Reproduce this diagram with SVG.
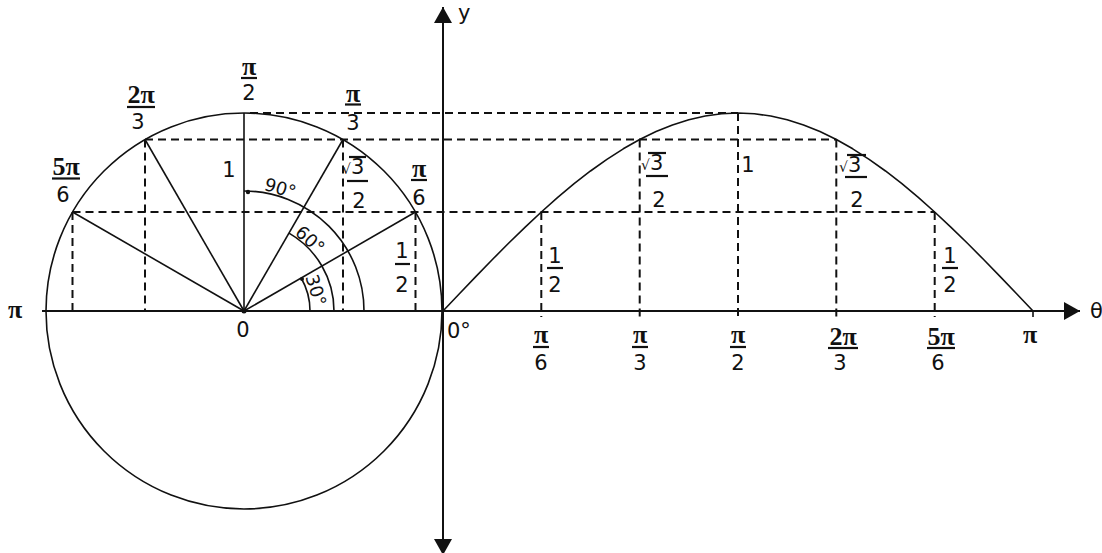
<svg xmlns="http://www.w3.org/2000/svg" width="1102" height="553" viewBox="0 0 1102 553">
<defs>
<style>
.ln{stroke:#111;stroke-width:1.6;fill:none}
.ax{stroke:#111;stroke-width:2;fill:none}
.ds{stroke:#111;stroke-width:2;fill:none;stroke-dasharray:8 5}
.bar{stroke:#111;stroke-width:2.2}
text{font-family:"DejaVu Sans","Liberation Sans",sans-serif;font-size:21px;fill:#111}
.pi{font-family:"Liberation Serif","DejaVu Serif",serif;font-weight:bold;font-size:26px}
.sq{font-size:14px}
.deg{font-size:18px}
</style>
<marker id="arr" markerUnits="userSpaceOnUse" viewBox="0 0 16 18" markerWidth="16" markerHeight="18" refX="16" refY="9" orient="auto-start-reverse">
<path d="M0,0 L16,9 L0,18 z" fill="#111"/>
</marker>
</defs>
<rect width="1102" height="553" fill="#fff"/>

<g id="guides">
<line class="ds" x1="250" y1="113" x2="738" y2="113"/>
<line class="ds" x1="145" y1="139.5" x2="836.3" y2="139.5"/>
<line class="ds" x1="72.5" y1="212" x2="934.7" y2="212"/>
<line class="ds" x1="72.5" y1="212" x2="72.5" y2="311"/>
<line class="ds" x1="145" y1="139.5" x2="145" y2="311"/>
<line class="ds" x1="343" y1="139.5" x2="343" y2="311"/>
<line class="ds" x1="415.5" y1="212" x2="415.5" y2="311"/>
<line class="ds" x1="541.3" y1="212" x2="541.3" y2="317"/>
<line class="ds" x1="639.7" y1="139.5" x2="639.7" y2="317"/>
<line class="ds" x1="738" y1="113" x2="738" y2="317"/>
<line class="ds" x1="836.3" y1="139.5" x2="836.3" y2="317"/>
<line class="ds" x1="934.7" y1="212" x2="934.7" y2="317"/>
<line class="ln" x1="1033" y1="311" x2="1033" y2="317"/>
</g>

<g id="unit-circle">
<circle class="ln" cx="244" cy="311" r="198"/>
<line class="ln" x1="244" y1="311" x2="72.5" y2="212"/>
<line class="ln" x1="244" y1="311" x2="145" y2="139.5"/>
<line class="ln" x1="244" y1="311" x2="244" y2="113"/>
<line class="ln" x1="244" y1="311" x2="343" y2="139.5"/>
<line class="ln" x1="244" y1="311" x2="415.5" y2="212"/>
<circle cx="244" cy="311" r="2.5" fill="#111"/>
</g>

<g id="angle-arcs">
<path class="ln" d="M244,191 A120,120 0 0 1 364,311"/>
<path class="ln" d="M289,233.1 A90,90 0 0 1 334,311"/>
<path class="ln" d="M301.2,278 A66,66 0 0 1 310,311"/>
<circle cx="248" cy="192" r="2.2" fill="#111"/>
<circle cx="302" cy="279" r="2" fill="#111"/>
<text class="deg" transform="translate(278.6,194.2) rotate(16)" text-anchor="middle">90°</text>
<text class="deg" transform="translate(305.9,244.4) rotate(42)" text-anchor="middle">60°</text>
<text class="deg" transform="translate(310,292.1) rotate(73)" text-anchor="middle">30°</text>
</g>

<g id="sine-curve">
<polyline class="ln" stroke-linejoin="round" points="443,311 459.39,293.74 475.78,276.62 492.17,259.75 508.56,243.28 524.94,227.32 541.33,212 557.72,197.43 574.11,183.73 590.5,170.99 606.89,159.32 623.28,148.81 639.67,139.53 656.06,131.55 672.44,124.94 688.83,119.75 705.22,116.01 721.61,113.75 738,113 754.39,113.75 770.78,116.01 787.17,119.75 803.56,124.94 819.94,131.55 836.33,139.53 852.72,148.81 869.11,159.32 885.5,170.99 901.89,183.73 918.28,197.43 934.67,212 951.06,227.32 967.44,243.28 983.83,259.75 1000.22,276.62 1016.61,293.74 1033,311"/>
</g>

<g id="axes">
<line class="ax" x1="42" y1="311" x2="1080" y2="311" marker-end="url(#arr)"/>
<line class="ax" x1="443" y1="555" x2="443" y2="7" marker-start="url(#arr)" marker-end="url(#arr)"/>
<text x="458" y="20" font-size="22">y</text>
<text x="1090" y="318" font-size="22">θ</text>
</g>

<g id="circle-labels">
<text class="pi" x="15" y="318" text-anchor="middle">π</text>
<text x="243" y="337" text-anchor="middle">0</text>
<text x="229" y="177" text-anchor="middle">1</text>
<!-- pi/2 -->
<text class="pi" x="249" y="75" text-anchor="middle">π</text>
<line class="bar" x1="241" y1="78" x2="257" y2="78"/>
<text x="249" y="100" text-anchor="middle">2</text>
<!-- 2pi/3 -->
<text class="pi" x="141" y="103" text-anchor="middle">2π</text>
<line class="bar" x1="127" y1="107" x2="155" y2="107"/>
<text x="138" y="129" text-anchor="middle">3</text>
<!-- 5pi/6 -->
<text class="pi" x="66" y="175" text-anchor="middle">5π</text>
<line class="bar" x1="52" y1="178.5" x2="80" y2="178.5"/>
<text x="63" y="202" text-anchor="middle">6</text>
<!-- pi/3 -->
<text class="pi" x="353" y="102" text-anchor="middle">π</text>
<line class="bar" x1="345" y1="104.5" x2="361" y2="104.5"/>
<text x="353" y="130" text-anchor="middle">3</text>
<!-- pi/6 -->
<text class="pi" x="419" y="177" text-anchor="middle">π</text>
<line class="bar" x1="411" y1="180" x2="427" y2="180"/>
<text x="419" y="205" text-anchor="middle">6</text>
<!-- sqrt3/2 -->
<text x="342" y="174"><tspan class="sq">√</tspan>3</text>
<line class="bar" x1="349" y1="157" x2="366" y2="157"/>
<line class="bar" x1="347" y1="181" x2="368" y2="181"/>
<text x="359" y="208" text-anchor="middle">2</text>
<!-- 1/2 -->
<text x="402" y="258" text-anchor="middle">1</text>
<line class="bar" x1="395" y1="264" x2="410" y2="264"/>
<text x="402" y="292" text-anchor="middle">2</text>
</g>

<g id="curve-labels">
<text x="447" y="338">0°</text>
<!-- 1/2 at pi/6 -->
<text x="555" y="263" text-anchor="middle">1</text>
<line class="bar" x1="547" y1="268" x2="563" y2="268"/>
<text x="555" y="292" text-anchor="middle">2</text>
<!-- sqrt3/2 at pi/3 -->
<text x="641" y="170"><tspan class="sq">√</tspan>3</text>
<line class="bar" x1="648" y1="153" x2="666" y2="153"/>
<line class="bar" x1="646" y1="176" x2="668" y2="176"/>
<text x="659" y="207" text-anchor="middle">2</text>
<!-- 1 at pi/2 -->
<text x="748" y="172" text-anchor="middle">1</text>
<!-- sqrt3/2 at 2pi/3 -->
<text x="839" y="172"><tspan class="sq">√</tspan>3</text>
<line class="bar" x1="847" y1="155" x2="866" y2="155"/>
<line class="bar" x1="845" y1="177" x2="867" y2="177"/>
<text x="857" y="207" text-anchor="middle">2</text>
<!-- 1/2 at 5pi/6 -->
<text x="950" y="263" text-anchor="middle">1</text>
<line class="bar" x1="942" y1="268" x2="958" y2="268"/>
<text x="950" y="292" text-anchor="middle">2</text>
</g>

<g id="theta-labels">
<text class="pi" x="541" y="343" text-anchor="middle">π</text>
<line class="bar" x1="533" y1="347" x2="549" y2="347"/>
<text x="541" y="370" text-anchor="middle">6</text>
<text class="pi" x="640" y="343" text-anchor="middle">π</text>
<line class="bar" x1="632" y1="347" x2="648" y2="347"/>
<text x="640" y="370" text-anchor="middle">3</text>
<text class="pi" x="738" y="343" text-anchor="middle">π</text>
<line class="bar" x1="730" y1="347" x2="746" y2="347"/>
<text x="738" y="370" text-anchor="middle">2</text>
<text class="pi" x="843" y="345" text-anchor="middle">2π</text>
<line class="bar" x1="828" y1="348" x2="858" y2="348"/>
<text x="840" y="370" text-anchor="middle">3</text>
<text class="pi" x="941" y="345" text-anchor="middle">5π</text>
<line class="bar" x1="927" y1="348" x2="955" y2="348"/>
<text x="938" y="370" text-anchor="middle">6</text>
<text class="pi" x="1030" y="343" text-anchor="middle">π</text>
</g>
</svg>
